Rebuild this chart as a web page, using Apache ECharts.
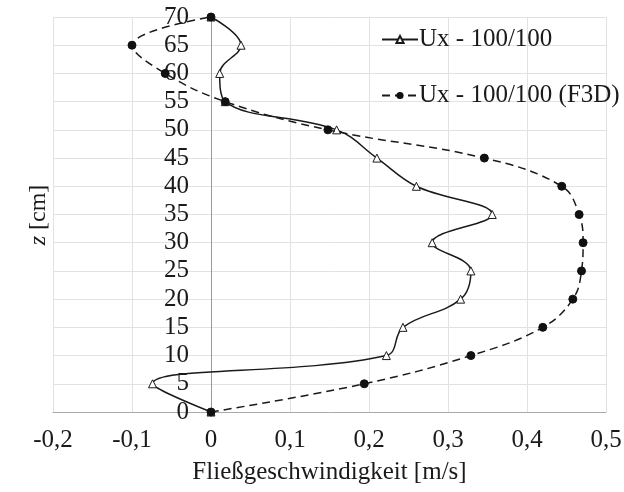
<!DOCTYPE html>
<html>
<head>
<meta charset="utf-8">
<script src="https://cdn.jsdelivr.net/npm/echarts@6/dist/echarts.min.js"></script>
<style>
  html, body { margin: 0; padding: 0; background: #fff; }
  #chart { width: 624px; height: 492px; }
</style>
</head>
<body>
<div id="chart"></div>
<script>
var zLevels = [0, 5, 10, 15, 20, 25, 30, 35, 40, 45, 50, 55, 60, 65, 70];
var uxMeasured = [0, -0.074, 0.222, 0.243, 0.316, 0.329, 0.28, 0.356, 0.26, 0.21, 0.159, 0.018, 0.011, 0.038, 0];
var uxF3D = [0, 0.194, 0.329, 0.42, 0.458, 0.469, 0.471, 0.466, 0.444, 0.346, 0.148, 0.018, -0.058, -0.1, 0];
var seriesNames = ['Ux - 100/100', 'Ux - 100/100 (F3D)'];

var dom = document.getElementById('chart');
var myChart = echarts.init(dom, null, { renderer: 'canvas' });

var font = '"Liberation Serif", "Times New Roman", Times, serif';
var ink = '#1a1a1a';

function pairs(xs) {
  return zLevels.map(function (z, i) { return [xs[i], z]; });
}

// y axis sits on x = 0: shift it right by the width of the -0.2..0 range
var gridLeft = 53, gridRight = 18;
var plotW = 624 - gridLeft - gridRight;
var zeroShift = plotW * 0.2 / 0.7;

var option = {
  animation: false,
  backgroundColor: '#fff',
  textStyle: { fontFamily: font, color: ink },
  grid: { left: gridLeft, right: gridRight, top: 17, bottom: 80, outerBoundsMode: 'none', containLabel: false },
  legend: {
    orient: 'vertical',
    left: 376,
    top: 22,
    itemGap: 31,
    itemWidth: 36,
    itemHeight: 9,
    textStyle: { fontFamily: font, fontSize: 25, color: ink, padding: [0, 0, 0, -4] },
    data: seriesNames
  },
  graphic: [{
    type: 'text',
    x: 39,
    y: 215,
    rotation: Math.PI / 2,
    style: {
      text: '{i|z} [cm]',
      font: '24px ' + font,
      fill: ink,
      align: 'center',
      verticalAlign: 'middle',
      rich: { i: { fontFamily: font, fontSize: 24, fontStyle: 'italic', fill: ink } }
    }
  }],
  xAxis: {
    type: 'value',
    min: -0.2,
    max: 0.5,
    interval: 0.1,
    name: 'Fließgeschwindigkeit [m/s]',
    nameLocation: 'middle',
    nameGap: 48,
    nameTextStyle: { fontFamily: font, fontSize: 25, color: ink },
    axisLine: { onZero: false, lineStyle: { color: '#aaa' } },
    axisTick: { show: false },
    axisLabel: {
      fontFamily: font, fontSize: 25, color: ink, margin: 16,
      formatter: function (v) { return (Math.round(v * 10) / 10).toString().replace('.', ','); }
    },
    splitLine: { show: true, lineStyle: { color: '#e2e2e2' } }
  },
  yAxis: {
    type: 'value',
    min: 0,
    max: 70,
    interval: 5,
    offset: -zeroShift,
    axisLine: { show: true, onZero: false, lineStyle: { color: '#999' } },
    axisTick: { show: false },
    axisLabel: { fontFamily: font, fontSize: 25, color: ink, margin: 22 },
    splitLine: { show: true, lineStyle: { color: '#e2e2e2' } }
  },
  series: [
    {
      name: seriesNames[0],
      type: 'line',
      smooth: 0.4,
      data: pairs(uxMeasured),
      symbol: 'triangle',
      symbolSize: 8,
      lineStyle: { color: ink, width: 1.5 },
      itemStyle: { color: '#fff', borderColor: ink, borderWidth: 1 },
      z: 3
    },
    {
      name: seriesNames[1],
      type: 'line',
      smooth: 0.4,
      data: pairs(uxF3D),
      symbol: 'circle',
      symbolSize: 8,
      lineStyle: { color: ink, width: 1.5, type: [8, 5] },
      itemStyle: { color: '#111', borderColor: '#111' },
      z: 4
    }
  ]
};

myChart.setOption(option);
window.addEventListener('resize', myChart.resize);
</script>
</body>
</html>
